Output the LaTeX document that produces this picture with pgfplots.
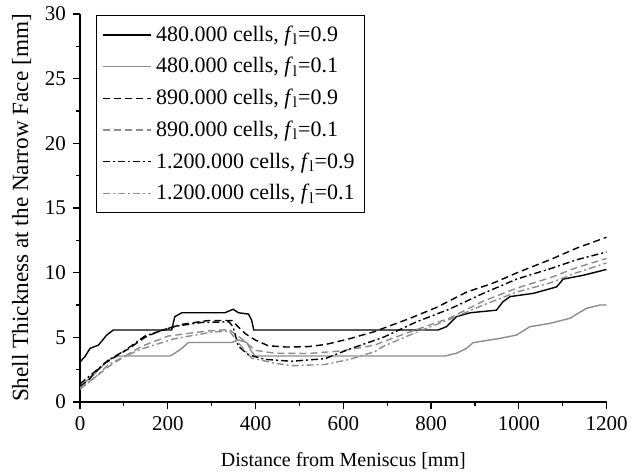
\documentclass[border=0pt]{standalone}
\usepackage{fontspec}
\setmainfont{Liberation Serif}
\usepackage{pgfplots}
\pgfplotsset{compat=1.18}
\definecolor{lgray}{gray}{0.55}
\begin{document}
\begin{tikzpicture}
\begin{axis}[
  scale only axis,
  width=263.3pt, height=194pt,
  xmin=0, xmax=1200, ymin=0, ymax=30,
  axis x line*=bottom, axis y line*=left,
  xtick={0,200,...,1200}, ytick={0,5,...,30},
  minor x tick num=1, minor y tick num=1,
  tick align=outside,
  major tick length=3.5pt, minor tick length=2pt,
  tick style={black, line width=0.6pt},
  axis line style={line width=0.6pt},
  /pgf/number format/assume math mode=true,
  /pgf/number format/1000 sep={},
  ticklabel style={font=\fontsize{10.5}{12}\selectfont},
  xlabel={Distance from Meniscus [mm]},
  ylabel={Shell Thickness at the Narrow Face [mm]},
  xlabel style={font=\fontsize{10}{12}\selectfont, yshift=-4pt},
  ylabel style={font=\fontsize{11.6}{13}\selectfont},
  legend cell align=left,
  legend style={at={(axis description cs:0.0304,0.997)}, anchor=north west,
    font=\fontsize{11}{13}\selectfont, draw=black, line width=0.6pt,
    row sep=2.6pt, inner xsep=3pt, inner ysep=3pt},
  legend image code/.code={\draw[#1] (0pt,0pt) -- (24pt,0pt);},
]
\addplot[black, line width=0.7pt] coordinates {
(0,3.1) (11,3.5) (23,4.15) (42,4.4) (61,5.18) (76,5.57) (209,5.57) (216,6.6) (232,6.9) (330,6.9) (349,7.17) (361,6.9) (384,6.8) (391,6.34) (396,5.57) (816,5.57) (835,5.82) (858,6.6) (889,6.9) (949,7.1) (964,7.76) (980,8.15) (1033,8.4) (1086,8.9) (1101,9.5) (1147,9.8) (1200,10.25)};
\addlegendentry{480.000 cells, \textit{f}\textsubscript{l}=0.9}
\addplot[lgray, line width=0.7pt] coordinates {
(0,1.18) (34,2.2) (65,3.25) (87,3.56) (205,3.56) (216,3.77) (232,4.15) (247,4.6) (346,4.6) (361,4.8) (380,4.6) (391,3.9) (399,3.56) (832,3.56) (858,3.77) (881,4.15) (896,4.59) (957,4.92) (995,5.18) (1025,5.82) (1071,6.08) (1116,6.47) (1154,7.24) (1185,7.5) (1200,7.5)};
\addlegendentry{480.000 cells, \textit{f}\textsubscript{l}=0.1}
\addplot[black, line width=0.7pt, dash pattern=on 3.5pt off 2pt] coordinates {
(0,1.2) (20,1.7) (34,2.3) (57,3.0) (80,3.5) (110,4.1) (148,5.0) (175,5.4) (201,5.7) (232,6.0) (292,6.3) (346,6.3) (361,5.8) (376,5.3) (399,4.8) (429,4.35) (470,4.25) (520,4.28) (560,4.45) (615,4.9) (672,5.45) (691,5.7) (752,6.47) (813,7.32) (881,8.5) (942,9.2) (1002,10.08) (1071,11.0) (1132,11.9) (1200,12.74)};
\addlegendentry{890.000 cells, \textit{f}\textsubscript{l}=0.9}
\addplot[lgray, line width=0.7pt, dash pattern=on 3.5pt off 2pt] coordinates {
(0,1.1) (34,1.9) (65,2.73) (100,3.5) (140,4.3) (201,5.1) (292,5.5) (340,5.6) (368,4.9) (399,4.0) (444,3.77) (520,3.75) (596,3.95) (672,4.4) (691,4.67) (767,5.6) (843,6.5) (919,7.8) (995,8.8) (1071,9.6) (1132,10.4) (1200,11.1)};
\addlegendentry{890.000 cells, \textit{f}\textsubscript{l}=0.1}
\addplot[black, line width=0.7pt, dash pattern=on 3.5pt off 1.5pt on 1pt off 1.5pt] coordinates {
(0,1.4) (34,2.35) (65,3.25) (103,4.0) (148,5.1) (216,5.85) (277,6.15) (340,6.2) (349,5.8) (361,4.3) (384,3.65) (421,3.3) (482,3.15) (558,3.35) (615,4.1) (691,5.0) (767,6.2) (843,7.2) (919,8.4) (995,9.5) (1071,10.3) (1132,11.0) (1200,11.6)};
\addlegendentry{1.200.000 cells, \textit{f}\textsubscript{l}=0.9}
\addplot[lgray, line width=0.7pt, dash pattern=on 3.5pt off 1.5pt on 1pt off 1.5pt] coordinates {
(0,1.0) (34,1.9) (65,2.9) (100,3.5) (140,4.1) (216,4.9) (300,5.4) (340,5.5) (368,4.3) (391,3.4) (444,3.0) (482,2.8) (558,2.9) (615,3.3) (672,3.9) (691,4.3) (767,5.4) (843,6.4) (919,7.5) (995,8.5) (1071,9.2) (1132,10.0) (1200,10.75)};
\addlegendentry{1.200.000 cells, \textit{f}\textsubscript{l}=0.1}
\end{axis}
\pgfresetboundingbox
\path[use as bounding box] ([shift={(-40pt,-35pt)}]current axis.south west) rectangle ++(321.5pt,236pt);
\end{tikzpicture}
\end{document}
